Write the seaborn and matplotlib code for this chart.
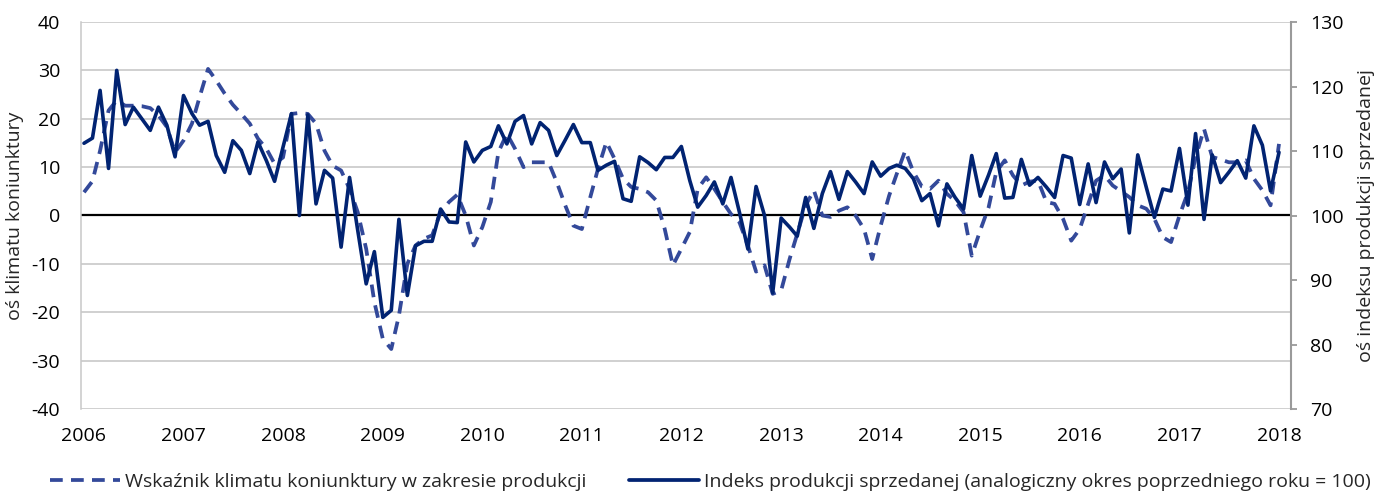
import numpy as np
import pandas as pd
import seaborn as sns
import matplotlib.pyplot as plt
import matplotlib.dates as mdates
from matplotlib.lines import Line2D

### data ###

start_month = "2006-01-01"

# Wskaznik klimatu koniunktury w zakresie produkcji (left axis)
klimat = [
    4.8, 7.1, 13.4, 21.7, 23.8, 22.7, 22.7, 22.6, 22.2, 20.7, 18.3, 13.1,
    15.5, 19.0, 24.5, 30.3, 27.9, 25.2, 22.9, 21.0, 19.0, 15.9, 13.8, 10.7,
    12.0, 21.0, 21.2, 21.0, 19.0, 13.4, 10.3, 9.3, 5.5, 0.7, -6.9, -17.9,
    -25.5, -27.6, -20.7, -10.0, -6.2, -4.8, -4.1, 0.7, 2.8, 4.3, 0.0, -6.2,
    -2.4, 2.8, 13.1, 16.9, 13.8, 10.0, 11.0, 11.0, 11.0, 6.9, 2.1, -2.1,
    -2.8, 3.8, 9.6, 15.2, 11.7, 7.6, 5.9, 5.5, 4.8, 3.1, -2.8, -10.3,
    -6.9, -3.4, 5.5, 7.9, 5.5, 2.8, 0.3, -1.4, -6.2, -11.6, -10.3, -16.2,
    -15.5, -9.0, -3.8, 2.1, 5.2, 0.0, -0.3, 1.0, 1.7, 0.0, -2.8, -9.0,
    -2.1, 4.1, 8.6, 13.4, 9.0, 6.0, 5.5, 7.2, 4.5, 3.0, 0.7, -8.3,
    -3.1, 1.7, 9.0, 11.4, 8.3, 6.2, 7.0, 7.2, 2.8, 2.4, -0.7, -5.2,
    -2.8, 2.4, 7.2, 8.3, 6.2, 5.0, 3.8, 2.1, 1.4, -0.7, -4.5, -5.5,
    0.0, 4.8, 12.0, 17.9, 12.1, 11.6, 11.0, 11.0, 11.4, 7.6, 5.2, 2.1,
    14.8,
]

# Indeks produkcji sprzedanej, analogiczny okres poprzedniego roku = 100 (right axis)
indeks = [
    111.2, 112.0, 119.4, 107.3, 122.5, 114.1, 116.8, 115.0, 113.2, 116.8, 114.0, 109.1,
    118.6, 115.8, 114.0, 114.6, 109.3, 106.7, 111.6, 110.1, 106.5, 111.4, 108.5, 105.3,
    110.6, 115.8, 100.0, 115.6, 101.8, 107.0, 105.8, 95.1, 105.9, 97.7, 89.4, 94.4,
    84.2, 85.3, 99.4, 87.6, 95.3, 96.0, 96.0, 101.0, 99.0, 98.9, 111.4, 108.3,
    110.1, 110.7, 113.9, 111.1, 114.6, 115.5, 111.1, 114.4, 113.2, 109.3, 111.7, 114.1,
    111.3, 111.3, 107.0, 107.8, 108.4, 102.6, 102.2, 109.1, 108.2, 107.1, 109.0, 109.0,
    110.7, 105.4, 101.3, 103.1, 105.2, 101.8, 105.9, 100.5, 94.8, 104.5, 100.0, 88.0,
    99.6, 98.2, 96.8, 102.8, 98.0, 103.4, 106.8, 102.5, 106.8, 105.2, 103.4, 108.3,
    106.1, 107.3, 107.8, 107.3, 105.7, 102.3, 103.4, 98.4, 104.9, 102.8, 101.0, 109.3,
    103.0, 106.3, 109.6, 102.7, 102.8, 108.7, 104.7, 105.9, 104.4, 102.8, 109.3, 108.9,
    101.7, 108.0, 102.0, 108.3, 105.7, 107.2, 97.3, 109.4, 104.4, 99.7, 104.1, 103.8,
    110.4, 101.6, 112.7, 99.4, 109.4, 105.1, 106.7, 108.5, 105.8, 113.9, 110.9, 103.8,
    109.8,
]

label_klimat = "Wskaźnik klimatu koniunktury w zakresie produkcji"
label_indeks = "Indeks produkcji sprzedanej (analogiczny okres poprzedniego roku = 100)"

##################

df = pd.DataFrame({
    "month": pd.date_range(start_month, periods=len(klimat), freq="MS"),
    "klimat": klimat,
    "indeks": indeks,
})

col_dash = "#33499A"
col_solid = "#012372"
fs = 14

sns.set_theme(style="white")
plt.rcParams["font.family"] = ["Open Sans", "DejaVu Sans"]
plt.rcParams["font.size"] = fs
plt.rcParams["axes.unicode_minus"] = False

fig = plt.figure(figsize=(13.8, 4.94), dpi=100)
ax = fig.add_axes([81 / 1380, 1 - 409 / 494, 1210 / 1380, 387 / 494])
ax2 = ax.twinx()

sns.lineplot(data=df, x="month", y="klimat", ax=ax, color=col_dash,
             linewidth=2.7, linestyle=(0, (3.4, 2.2)), zorder=3)
sns.lineplot(data=df, x="month", y="indeks", ax=ax2, color=col_solid,
             linewidth=2.6, zorder=3)
for ln in ax2.get_lines():
    ln.set_solid_joinstyle("round")

ax.axhline(0, color="black", linewidth=1.6, zorder=2)

# axes ranges
ax.set_ylim(-40, 40)
ax2.set_ylim(70, 130)
ax.set_yticks(np.arange(-40, 41, 10))
ax2.set_yticks(np.arange(70, 131, 10))
ax.set_xlim(pd.Timestamp("2006-01-01") - pd.Timedelta(days=11),
            pd.Timestamp("2018-01-01") + pd.Timedelta(days=44))
ax.xaxis.set_major_locator(mdates.YearLocator())
ax.xaxis.set_major_formatter(mdates.DateFormatter("%Y"))

ax.grid(axis="y", color="#C4C4C4", linewidth=1.1)
ax.grid(axis="x", visible=False)
ax2.grid(False)
ax.set_axisbelow(True)

for side in ["top", "bottom", "right"]:
    ax.spines[side].set_visible(False)
ax.spines["left"].set_color("#C8C8C8")
ax.spines["left"].set_linewidth(1.1)
for side in ["top", "bottom", "left"]:
    ax2.spines[side].set_visible(False)
ax2.spines["right"].set_color("#9A9A9A")
ax2.spines["right"].set_linewidth(1.5)

ax.tick_params(axis="y", length=0, pad=15, labelsize=fs, colors="black")
ax.tick_params(axis="x", length=0, pad=13, labelsize=fs, colors="black")
ax2.tick_params(axis="y", length=4, width=1.3, pad=10, labelsize=fs,
                colors="#9A9A9A", labelcolor="black", right=True)

ax.set_xlabel("")
ax.set_ylabel("oś klimatu koniunktury", fontsize=fs, labelpad=5)
ax2.set_ylabel("oś indeksu produkcji sprzedanej", fontsize=fs, labelpad=9)

# legend, two entries placed side by side
h1 = Line2D([], [], color=col_dash, linewidth=2.7, linestyle=(0, (3.4, 2.2)))
h2 = Line2D([], [], color=col_solid, linewidth=2.7)
fig.legend([h1], [label_klimat], loc="center left", bbox_to_anchor=(50 / 1380, 12 / 494),
           frameon=False, handlelength=3.6, handletextpad=0.25, borderpad=0,
           borderaxespad=0, fontsize=fs)
fig.legend([h2], [label_indeks], loc="center left", bbox_to_anchor=(629 / 1380, 12 / 494),
           frameon=False, handlelength=3.6, handletextpad=0.25, borderpad=0,
           borderaxespad=0, fontsize=fs)

fig.savefig("out.png", dpi=100)
